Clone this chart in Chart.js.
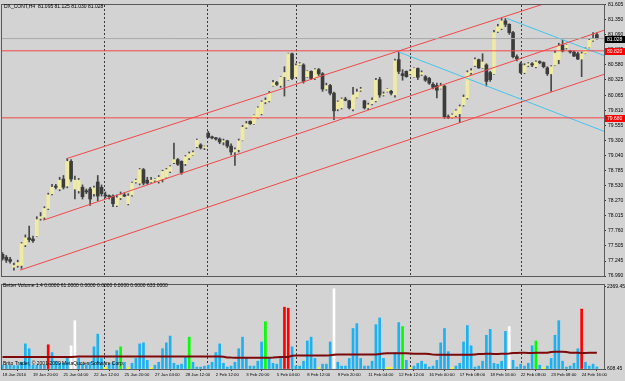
<!DOCTYPE html>
<html>
<head>
<meta charset="utf-8">
<script src="https://cdn.jsdelivr.net/npm/chart.js@4.4.1/dist/chart.umd.min.js"></script>
<style>
  html, body { margin: 0; padding: 0; background: #d3d3d3; }
  #wrap { position: relative; width: 625px; height: 381px; overflow: hidden; background: #d3d3d3; }
  #wrap canvas { position: absolute; left: 0; }
  #priceChart { top: 0; }
  #volChart { top: 281px; }
</style>
</head>
<body>
<div id="wrap">
  <canvas id="priceChart" width="625" height="281"></canvas>
  <canvas id="volChart" width="625" height="100"></canvas>
</div>
<script>
// DX_CONT H4 candles, 18 Jan - 24 Feb 2010
const opens = [77.36, 77.31, 77.27, 77.14, 77.17, 77.17, 77.52, 77.64, 77.62, 77.67,
  77.97, 77.99, 78.14, 78.39, 78.52, 78.47, 78.64, 78.52, 78.94, 78.47,
  78.44, 78.50, 78.44, 78.47, 78.39, 78.59, 78.50, 78.37, 78.35, 78.35,
  78.19, 78.32, 78.37, 78.22, 78.37, 78.59, 78.57, 78.80, 78.62, 78.59,
  78.62, 78.60, 78.64, 78.67, 78.77, 78.92, 78.97, 78.94, 78.90, 79.00,
  79.05, 79.19, 79.22, 79.17, 79.42, 79.35, 79.34, 79.32, 79.27, 79.29,
  79.20, 79.10, 79.14, 79.30, 79.52, 79.62, 79.58, 79.68, 79.75, 79.95,
  79.97, 80.23, 80.28, 80.23, 80.38, 80.33, 80.77, 80.38, 80.58, 80.58,
  80.38, 80.47, 80.35, 80.50, 80.43, 80.17, 80.23, 80.10, 79.83, 79.85,
  80.00, 79.97, 79.83, 80.03, 80.15, 79.97, 79.85, 79.92, 79.97, 80.33,
  80.07, 80.13, 80.13, 80.07, 80.67, 80.43, 80.47, 80.43, 80.38, 80.52,
  80.42, 80.38, 80.35, 80.25, 80.23, 80.18, 80.22, 79.70, 79.68, 79.72,
  79.75, 79.90, 80.02, 80.45, 80.57, 80.67, 80.53, 80.58, 80.45, 80.43,
  81.15, 81.20, 81.33, 81.27, 81.13, 80.72, 80.60, 80.45, 80.57, 80.60,
  80.55, 80.63, 80.62, 80.53, 80.43, 80.58, 80.67, 80.92, 80.87, 80.82,
  80.80, 80.77, 80.68, 80.78, 80.88, 81.00, 81.095];
const highs = [77.39, 77.34, 77.31, 77.21, 77.26, 77.56, 77.69, 77.84, 77.67, 78.00,
  78.07, 78.17, 78.40, 78.55, 78.55, 78.67, 78.70, 78.99, 78.97, 78.69,
  78.65, 78.54, 78.47, 78.50, 78.52, 78.70, 78.54, 78.42, 78.37, 78.37,
  78.37, 78.42, 78.40, 78.39, 78.59, 78.64, 78.82, 78.82, 78.67, 78.67,
  78.65, 78.70, 78.79, 78.82, 78.87, 79.25, 78.99, 78.95, 79.04, 79.10,
  79.12, 79.32, 79.24, 79.20, 79.45, 79.37, 79.35, 79.34, 79.32, 79.30,
  79.24, 79.17, 79.32, 79.55, 79.62, 79.63, 79.73, 79.87, 79.97, 80.02,
  80.13, 80.32, 80.30, 80.38, 80.55, 80.78, 80.78, 80.60, 80.62, 80.60,
  80.48, 80.48, 80.52, 80.52, 80.45, 80.27, 80.25, 80.12, 79.97, 80.02,
  80.03, 79.98, 80.20, 80.17, 80.20, 79.98, 79.93, 80.02, 80.35, 80.37,
  80.12, 80.18, 80.15, 80.68, 80.80, 80.50, 80.48, 80.50, 80.53, 80.53,
  80.48, 80.40, 80.37, 80.28, 80.27, 80.27, 80.23, 79.73, 79.75, 79.82,
  79.90, 80.07, 80.48, 80.52, 80.70, 80.68, 80.77, 80.60, 80.47, 81.17,
  81.27, 81.37, 81.37, 81.28, 81.15, 80.75, 80.63, 80.60, 80.62, 80.62,
  80.65, 80.65, 80.63, 80.55, 80.57, 80.82, 80.95, 81.00, 80.93, 80.83,
  80.82, 80.80, 80.80, 80.87, 81.02, 81.13, 81.125];
const lows = [77.26, 77.22, 77.21, 77.09, 77.14, 77.12, 77.49, 77.57, 77.56, 77.66,
  77.94, 77.95, 78.12, 78.37, 78.47, 78.44, 78.47, 78.49, 78.60, 78.30,
  78.40, 78.30, 78.39, 78.19, 78.35, 78.27, 78.35, 78.32, 78.30, 78.17,
  78.17, 78.29, 78.34, 78.20, 78.35, 78.57, 78.54, 78.54, 78.55, 78.57,
  78.60, 78.57, 78.59, 78.65, 78.75, 78.90, 78.87, 78.72, 78.87, 78.97,
  79.04, 79.17, 79.15, 79.14, 79.34, 79.32, 79.30, 79.24, 79.22, 79.17,
  79.05, 78.87, 79.10, 79.29, 79.50, 79.57, 79.57, 79.67, 79.73, 79.92,
  79.95, 80.22, 80.23, 80.20, 80.05, 80.32, 80.33, 80.37, 80.57, 80.27,
  80.37, 80.33, 80.33, 80.40, 80.13, 80.15, 80.07, 79.65, 79.80, 79.83,
  79.97, 79.83, 79.80, 80.02, 80.13, 79.83, 79.82, 79.90, 79.95, 80.03,
  80.05, 80.12, 80.07, 80.03, 80.43, 80.32, 80.37, 80.42, 80.37, 80.33,
  80.40, 80.30, 80.25, 80.17, 80.02, 80.17, 79.67, 79.67, 79.67, 79.70,
  79.60, 79.88, 80.00, 80.42, 80.55, 80.52, 80.52, 80.22, 80.30, 80.42,
  81.13, 81.18, 81.23, 81.10, 80.70, 80.65, 80.43, 80.43, 80.55, 80.55,
  80.53, 80.60, 80.53, 80.40, 80.13, 80.57, 80.60, 80.80, 80.85, 80.78,
  80.72, 80.67, 80.38, 80.77, 80.87, 80.98, 81.020];
const closes = [77.29, 77.26, 77.24, 77.17, 77.22, 77.54, 77.64, 77.61, 77.59, 77.95,
  78.00, 78.14, 78.37, 78.50, 78.50, 78.62, 78.50, 78.94, 78.64, 78.62,
  78.62, 78.34, 78.42, 78.30, 78.49, 78.35, 78.39, 78.35, 78.34, 78.22,
  78.32, 78.37, 78.35, 78.35, 78.57, 78.62, 78.80, 78.57, 78.57, 78.62,
  78.64, 78.67, 78.77, 78.80, 78.85, 78.97, 78.89, 78.75, 79.02, 79.07,
  79.09, 79.30, 79.17, 79.19, 79.35, 79.34, 79.32, 79.27, 79.29, 79.20,
  79.10, 79.14, 79.29, 79.52, 79.58, 79.58, 79.72, 79.85, 79.95, 79.98,
  80.10, 80.28, 80.25, 80.37, 80.45, 80.77, 80.35, 80.57, 80.60, 80.30,
  80.47, 80.35, 80.50, 80.43, 80.17, 80.23, 80.10, 79.80, 79.95, 80.00,
  79.98, 79.85, 80.07, 80.12, 80.17, 79.85, 79.90, 79.98, 80.32, 80.07,
  80.08, 80.17, 80.10, 80.65, 80.47, 80.40, 80.38, 80.47, 80.52, 80.37,
  80.45, 80.32, 80.27, 80.20, 80.15, 80.23, 79.70, 79.68, 79.73, 79.80,
  79.87, 80.03, 80.45, 80.48, 80.67, 80.53, 80.63, 80.30, 80.33, 81.13,
  81.23, 81.33, 81.27, 81.13, 80.72, 80.68, 80.45, 80.57, 80.60, 80.58,
  80.63, 80.62, 80.55, 80.43, 80.55, 80.78, 80.90, 80.82, 80.92, 80.80,
  80.73, 80.68, 80.77, 80.85, 81.00, 81.02, 81.028];

// Better Volume histogram + its average line
const volumes = [110, 110, 110, 100, 100, 195, 725, 585, 110, 110,
  110, 110, 700, 475, 225, 165, 165, 305, 670, 1395,
  305, 140, 110, 195, 640, 1005, 305, 40, 140, 195,
  530, 640, 195, 40, 165, 305, 725, 755, 250, 40,
  110, 195, 585, 755, 950, 165, 110, 140, 360, 920,
  195, 55, 55, 80, 110, 195, 475, 725, 165, 55,
  85, 195, 585, 920, 305, 85, 85, 225, 780, 1365,
  335, 165, 140, 305, 1785, 1755, 640, 85, 85, 225,
  810, 920, 305, 40, 140, 140, 780, 2315, 195, 85,
  85, 305, 1170, 1310, 305, 85, 85, 225, 1280, 1475,
  305, 40, 40, 475, 1340, 1225, 250, 40, 85, 165,
  225, 140, 55, 85, 250, 755, 1170, 500, 40, 85,
  165, 780, 1255, 670, 55, 85, 225, 975, 1145, 165,
  140, 225, 1085, 1225, 250, 55, 140, 85, 165, 670,
  810, 110, 40, 85, 305, 975, 1395, 225, 55, 85,
  165, 585, 1730, 195, 85, 140, 61];
const volAvg = [348, 347, 346, 346, 345, 345, 344, 344, 345, 345,
  346, 346, 345, 344, 344, 345, 345, 346, 350, 356,
  358, 360, 361, 361, 360, 360, 361, 362, 362, 361,
  360, 360, 359, 359, 360, 361, 361, 362, 362, 361,
  360, 360, 359, 359, 360, 361, 362, 362, 361, 360,
  360, 361, 362, 362, 362, 361, 360, 358, 352, 335,
  330, 328, 327, 326, 326, 327, 328, 328, 327, 326,
  327, 332, 340, 344, 346, 348, 380, 388, 390, 391,
  390, 390, 391, 392, 392, 391, 395, 410, 416, 418,
  419, 420, 420, 421, 421, 420, 420, 421, 422, 430,
  448, 452, 453, 454, 454, 453, 452, 448, 440, 438,
  438, 437, 430, 415, 411, 410, 410, 409, 409, 410,
  410, 411, 411, 410, 420, 432, 436, 437, 437, 436,
  436, 437, 437, 445, 462, 465, 466, 466, 465, 465,
  466, 466, 466, 470, 490, 498, 499, 498, 490, 470,
  466, 466, 465, 465, 466, 466, 466];
const volRed = [12, 74, 75, 152];
const volWhite = [18, 19, 87, 133];
const volGreen = [31, 49, 69, 105, 140];
const volYellow = [27, 33, 39, 83, 101, 102, 107, 118, 142];

// axis labels
const timeLabels = ['18 Jan 2010', '19 Jan 20:00', '21 Jan 04:00', '22 Jan 12:00', '25 Jan 20:00',
  '27 Jan 04:00', '28 Jan 12:00', '2 Feb 12:00', '3 Feb 20:00', '5 Feb 04:00',
  '8 Feb 12:00', '9 Feb 20:00', '11 Feb 04:00', '12 Feb 12:00', '16 Feb 00:00',
  '17 Feb 08:00', '18 Feb 16:00', '22 Feb 08:00', '23 Feb 08:00', '24 Feb 16:00'];
const timeLabelStep = 8; // bars between time labels
const priceTicks = [81.605, 81.350, 81.090, 80.835, 80.580, 80.325, 80.065, 79.810, 79.555, 79.300,
  79.040, 78.785, 78.530, 78.270, 78.015, 77.760, 77.505, 77.245, 76.990];
const volTicks = [2369.45, 0];
const volTickLabels = ['2369.45', '608.45'];

// drawn objects: [bar, price] end points
const channelLines = [
  [[17, 78.99], [157.9, 81.95]],
  [[10.7, 77.94], [157.9, 81.17]],
  [[4.6, 77.09], [157.9, 80.42]]
];
const cyanLines = [
  [[104, 80.80], [157.9, 79.45]],
  [[132.4, 81.37], [157.9, 80.74]]
];
const levelLines = [80.820, 79.680];
const bidPrice = 81.028;
const separators = [26.6, 53.7, 77.0, 107.0, 136.1]; // week starts, in bars

const headerText = 'DX_CONT,H4  81.095 81.125 81.030 81.028';
const volHeader = 'Better Volume 1.4 0.0000 61.0000 0.0000 0.0000 0.0000 0.0000 633.0000';
const copyText = 'Brito Trader, \u00a9 2001-2009 MetaQuotes Software Corp.';

const xMin = -0.13, xMax = 157.87;
const FONT = '"Liberation Sans", Arial, sans-serif';

Chart.defaults.font.family = FONT;
Chart.defaults.font.size = 5;
Chart.defaults.color = '#000';

const mtFrame = {
  id: 'mtFrame',
  beforeDatasetsDraw(chart) {
    const { ctx, chartArea: a, scales: { x } } = chart;
    ctx.save();
    ctx.strokeStyle = '#3a3a3a';
    ctx.lineWidth = 1;
    ctx.setLineDash([2, 2]);
    separators.forEach(v => {
      const px = Math.round(x.getPixelForValue(v)) + 0.5;
      ctx.beginPath();
      ctx.moveTo(px, a.top);
      ctx.lineTo(px, a.bottom);
      ctx.stroke();
    });
    ctx.restore();
  },
  afterDraw(chart, args, opts) {
    const { ctx, chartArea: a } = chart;
    ctx.save();
    ctx.strokeStyle = '#5a5a5a';
    ctx.lineWidth = 1;
    ctx.strokeRect(a.left - 0.5, a.top - 0.5, a.right - a.left + 1, a.bottom - a.top + 1);
    ctx.font = '5px ' + FONT;
    ctx.textBaseline = 'middle';
    ctx.fillStyle = '#000';
    (opts.texts || []).forEach(t => ctx.fillText(t.text, t.x, t.y));
    // price boxes on the right scale
    if (opts.markers) {
      const y = chart.scales.y;
      opts.markers.forEach(m => {
        const py = Math.round(y.getPixelForValue(m.value));
        ctx.fillStyle = m.bg;
        ctx.fillRect(a.right + 1, py - 3, 21, 7);
        ctx.fillStyle = '#fff';
        ctx.fillText(m.value.toFixed(3), a.right + 3, py + 0.5);
      });
    }
    ctx.restore();
  }
};

const bars = opens.map((_, i) => i);
const lineDs = (pts, color) => ({
  type: 'line',
  data: pts.map(p => ({ x: p[0], y: p[1] })),
  borderColor: color,
  borderWidth: 1,
  pointRadius: 0,
  order: 0
});

new Chart(document.getElementById('priceChart'), {
  type: 'bar',
  data: {
    datasets: [
      lineDs([[xMin, bidPrice], [xMax, bidPrice]], '#a9a9a9'),
      ...levelLines.map(v => lineDs([[xMin, v], [xMax, v]], '#f04848')),
      ...channelLines.map(l => lineDs(l, '#f04848')),
      ...cyanLines.map(l => lineDs(l, '#46c4ec')),
      {
        data: bars.map(i => ({ x: i, y: [opens[i], closes[i]] })),
        backgroundColor: c => closes[c.dataIndex] >= opens[c.dataIndex] ? '#efeba2' : '#3c3c3c',
        barThickness: 3,
        minBarLength: 1,
        grouped: false,
        order: 1
      },
      {
        data: bars.map(i => ({ x: i, y: [lows[i], highs[i]] })),
        backgroundColor: '#484848',
        barThickness: 1,
        grouped: false,
        order: 2
      }
    ]
  },
  options: {
    responsive: false,
    animation: false,
    devicePixelRatio: 1,
    layout: { padding: { left: 2, top: 2, right: 0, bottom: 2 } },
    plugins: {
      legend: { display: false },
      tooltip: { enabled: false },
      mtFrame: {
        texts: [{ text: headerText, x: 4, y: 7 }],
        markers: [
          { value: bidPrice, bg: '#000' },
          { value: levelLines[0], bg: '#ff0000' },
          { value: levelLines[1], bg: '#ff0000' }
        ]
      }
    },
    scales: {
      x: { type: 'linear', display: false, min: xMin, max: xMax, offset: false },
      y: {
        position: 'right',
        min: 76.991,
        max: 81.599,
        afterFit: s => { s.width = 21; },
        afterBuildTicks: s => { s.ticks = priceTicks.map(v => ({ value: v })); },
        ticks: { autoSkip: false, padding: 2, callback: v => v.toFixed(3) },
        grid: { drawOnChartArea: false, tickLength: 2, color: '#333' },
        border: { display: false }
      }
    }
  },
  plugins: [mtFrame]
});

const volColor = i => {
  if (volRed.includes(i)) return '#ff0000';
  if (volWhite.includes(i)) return '#ffffff';
  if (volGreen.includes(i)) return '#00ff00';
  if (volYellow.includes(i)) return '#ffff00';
  return '#1cb2f2';
};

new Chart(document.getElementById('volChart'), {
  type: 'bar',
  data: {
    datasets: [
      {
        type: 'line',
        data: volAvg.map((v, i) => ({ x: i, y: v })),
        borderColor: '#7d0a0a',
        borderWidth: 2,
        pointRadius: 0,
        order: 0
      },
      {
        data: volumes.map((v, i) => ({ x: i, y: v })),
        backgroundColor: c => volColor(c.dataIndex),
        barThickness: 2,
        grouped: false,
        order: 1
      }
    ]
  },
  options: {
    responsive: false,
    animation: false,
    devicePixelRatio: 1,
    layout: { padding: { left: 2, top: 1, right: 0, bottom: 0 } },
    plugins: {
      legend: { display: false },
      tooltip: { enabled: false },
      mtFrame: {
        texts: [
          { text: volHeader, x: 3, y: 5 },
          { text: copyText, x: 3, y: 83 }
        ]
      }
    },
    scales: {
      x: {
        type: 'linear',
        min: xMin,
        max: xMax,
        offset: false,
        afterFit: s => { s.height = 12; },
        afterBuildTicks: s => { s.ticks = timeLabels.map((_, k) => ({ value: k * timeLabelStep })); },
        ticks: {
          autoSkip: false,
          maxRotation: 0,
          align: 'start',
          padding: 1,
          font: { size: 4.3 },
          callback: (v, i) => timeLabels[i]
        },
        grid: { drawOnChartArea: false, tickLength: 2, color: '#333' },
        border: { display: false }
      },
      y: {
        position: 'right',
        min: 0,
        max: 2425,
        afterFit: s => { s.width = 21; },
        afterBuildTicks: s => { s.ticks = volTicks.map(v => ({ value: v })); },
        ticks: { autoSkip: false, padding: 1, callback: (v, i) => volTickLabels[i] },
        grid: { drawOnChartArea: false, tickLength: 2, color: '#333' },
        border: { display: false }
      }
    }
  },
  plugins: [mtFrame]
});
</script>
</body>
</html>
